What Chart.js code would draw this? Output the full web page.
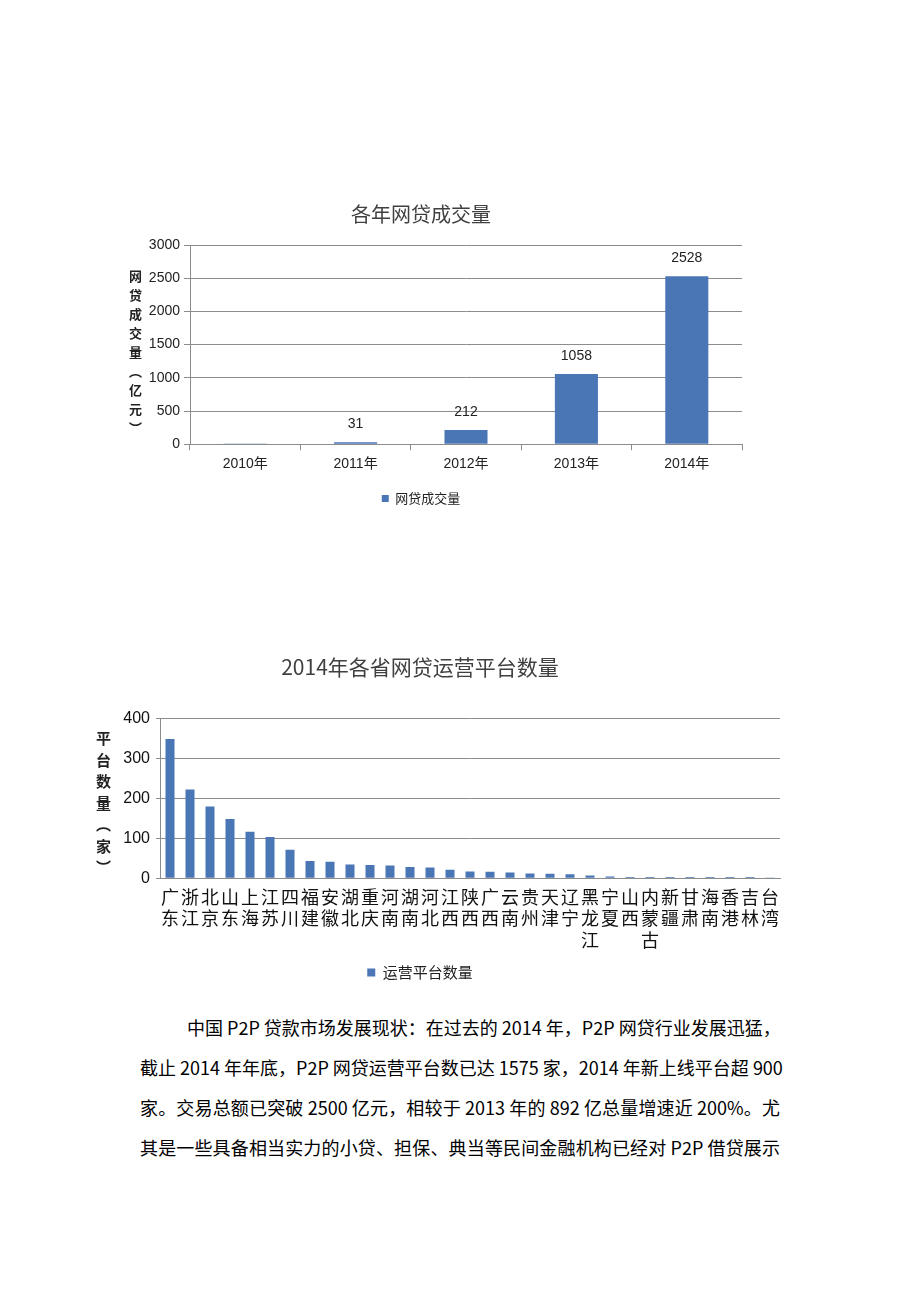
<!DOCTYPE html>
<html>
<head>
<meta charset="utf-8">
<script src="https://cdn.jsdelivr.net/npm/chart.js@4.4.1/dist/chart.umd.min.js"></script>
<style>
body { margin: 0; background: #fff; width: 920px; height: 1302px; position: relative; overflow: hidden; font-family: "Noto Sans CJK SC", sans-serif; }
.box { position: absolute; }
.ytitle { position: absolute; writing-mode: vertical-rl; text-orientation: upright; font-weight: bold; color: #222; font-family: "Noto Sans CJK SC", sans-serif; }
#para { position: absolute; left: 140px; top: 1007px; width: 640px; font-size: 18px; color: #000; line-height: 40px; font-family: "Noto Sans CJK SC", sans-serif; }
#para div { text-align: justify; text-align-last: justify; white-space: nowrap; }
</style>
</head>
<body>

<div class="box" style="left:100px; top:190px; width:660px; height:330px;"><canvas id="yearChart"></canvas></div>
<div class="ytitle" style="left:126px; top:270px; font-size:13px; letter-spacing:6px;">网贷成交量（亿元）</div>

<div class="box" style="left:60px; top:640px; width:740px; height:350px;"><canvas id="provChart"></canvas></div>
<div class="ytitle" style="left:93px; top:731px; font-size:15px; letter-spacing:6.5px;">平台数量（家）</div>

<div id="para">
<div style="padding-left:47px;">中国 P2P 贷款市场发展现状：在过去的 2014 年，P2P 网贷行业发展迅猛，</div>
<div>截止 2014 年年底，P2P 网贷运营平台数已达 1575 家，2014 年新上线平台超 900</div>
<div>家。交易总额已突破 2500 亿元，相较于 2013 年的 892 亿总量增速近 200%。尤</div>
<div>其是一些具备相当实力的小贷、担保、典当等民间金融机构已经对 P2P 借贷展示</div>
</div>

<script>
// Data - chart 1
const years = ['2010年', '2011年', '2012年', '2013年', '2014年'];
const volume = [12, 31, 212, 1058, 2528];
const volumeLabels = ['', '31', '212', '1058', '2528'];
const yearTicks = [0, 500, 1000, 1500, 2000, 2500, 3000];

// Data - chart 2
const provinces = ['广东', '浙江', '北京', '山东', '上海', '江苏', '四川', '福建', '安徽', '湖北',
  '重庆', '河南', '湖南', '河北', '江西', '陕西', '广西', '云南', '贵州', '天津',
  '辽宁', '黑龙江', '宁夏', '山西', '内蒙古', '新疆', '甘肃', '海南', '香港', '吉林', '台湾'];
const platforms = [348, 222, 179, 148, 116, 103, 71, 43, 41, 34,
  33, 32, 28, 27, 21, 17, 16, 14, 12, 11,
  10, 7, 4, 3, 3, 3, 3, 3, 3, 3, 2];
const provTicks = [0, 100, 200, 300, 400];

const barColor = '#4a76b6';
const gridColor = '#8c8c8c';

// draw value labels above bars
const valueLabels = {
  id: 'valueLabels',
  afterDatasetsDraw(chart, args, opts) {
    if (!opts.labels) return;
    const ctx = chart.ctx;
    const meta = chart.getDatasetMeta(0);
    ctx.save();
    ctx.font = '14px "Liberation Sans", Arial, sans-serif';
    ctx.fillStyle = '#222';
    ctx.textAlign = 'center';
    ctx.textBaseline = 'middle';
    meta.data.forEach((bar, i) => {
      const txt = opts.labels[i];
      if (txt) ctx.fillText(txt, bar.x, bar.y - 18);
    });
    ctx.restore();
  }
};

new Chart(document.getElementById('yearChart'), {
  type: 'bar',
  data: {
    labels: years,
    datasets: [{
      label: '网贷成交量',
      data: volume,
      backgroundColor: barColor,
      categoryPercentage: 0.78,
      barPercentage: 0.5
    }]
  },
  options: {
    responsive: true,
    maintainAspectRatio: false,
    animation: false,
    layout: { padding: { left: 0, right: 18, top: 0, bottom: 5 } },
    plugins: {
      title: {
        display: true,
        text: '各年网贷成交量',
        color: '#404040',
        font: { size: 20, family: '"Noto Sans CJK SC", sans-serif', weight: 'normal' },
        padding: { top: 12, bottom: 19 }
      },
      legend: {
        position: 'bottom',
        labels: {
          boxWidth: 7, boxHeight: 7,
          color: '#222',
          font: { size: 13, family: '"Noto Sans CJK SC", sans-serif' },
          padding: 13
        }
      },
      tooltip: { enabled: false },
      valueLabels: { labels: volumeLabels }
    },
    scales: {
      x: {
        grid: { display: true, drawOnChartArea: false, color: gridColor, tickLength: 6 },
        border: { color: gridColor },
        ticks: { color: '#222', font: { size: 14, family: '"Liberation Sans", "Noto Sans CJK SC", sans-serif' }, padding: 6 }
      },
      y: {
        min: 0, max: 3000,
        afterBuildTicks: axis => { axis.ticks = yearTicks.map(v => ({ value: v })); },
        afterFit: axis => { axis.width = 90; },
        grid: { color: gridColor, tickLength: 6 },
        border: { color: gridColor },
        ticks: { color: '#222', font: { size: 14, family: '"Liberation Sans", Arial, sans-serif' }, padding: 4, callback: v => String(v) }
      }
    }
  },
  plugins: [valueLabels]
});

new Chart(document.getElementById('provChart'), {
  type: 'bar',
  data: {
    labels: provinces.map(p => p.split('')),
    datasets: [{
      label: '运营平台数量',
      data: platforms,
      backgroundColor: barColor,
      categoryPercentage: 0.9,
      barPercentage: 0.5
    }]
  },
  options: {
    responsive: true,
    maintainAspectRatio: false,
    animation: false,
    layout: { padding: { left: 0, right: 20, top: 0, bottom: 0 } },
    plugins: {
      title: {
        display: true,
        text: '2014年各省网贷运营平台数量',
        color: '#404040',
        font: { size: 21, family: '"Noto Sans CJK SC", sans-serif', weight: 'normal' },
        padding: { top: 14, bottom: 39 }
      },
      legend: {
        position: 'bottom',
        labels: {
          boxWidth: 8, boxHeight: 8,
          color: '#222',
          font: { size: 15, family: '"Noto Sans CJK SC", sans-serif' },
          padding: 14
        }
      },
      tooltip: { enabled: false }
    },
    scales: {
      x: {
        grid: { display: false },
        border: { color: gridColor },
        ticks: {
          color: '#111',
          autoSkip: false,
          maxRotation: 0,
          font: { size: 18, family: '"Noto Sans CJK SC", sans-serif', lineHeight: 1.2 },
          padding: 0
        }
      },
      y: {
        min: 0, max: 400,
        afterBuildTicks: axis => { axis.ticks = provTicks.map(v => ({ value: v })); },
        afterFit: axis => { axis.width = 100; },
        grid: { color: gridColor, tickLength: 4 },
        border: { color: gridColor },
        ticks: { color: '#111', font: { size: 16, family: '"Liberation Sans", Arial, sans-serif' }, padding: 6, callback: v => String(v) }
      }
    }
  }
});
</script>
</body>
</html>
